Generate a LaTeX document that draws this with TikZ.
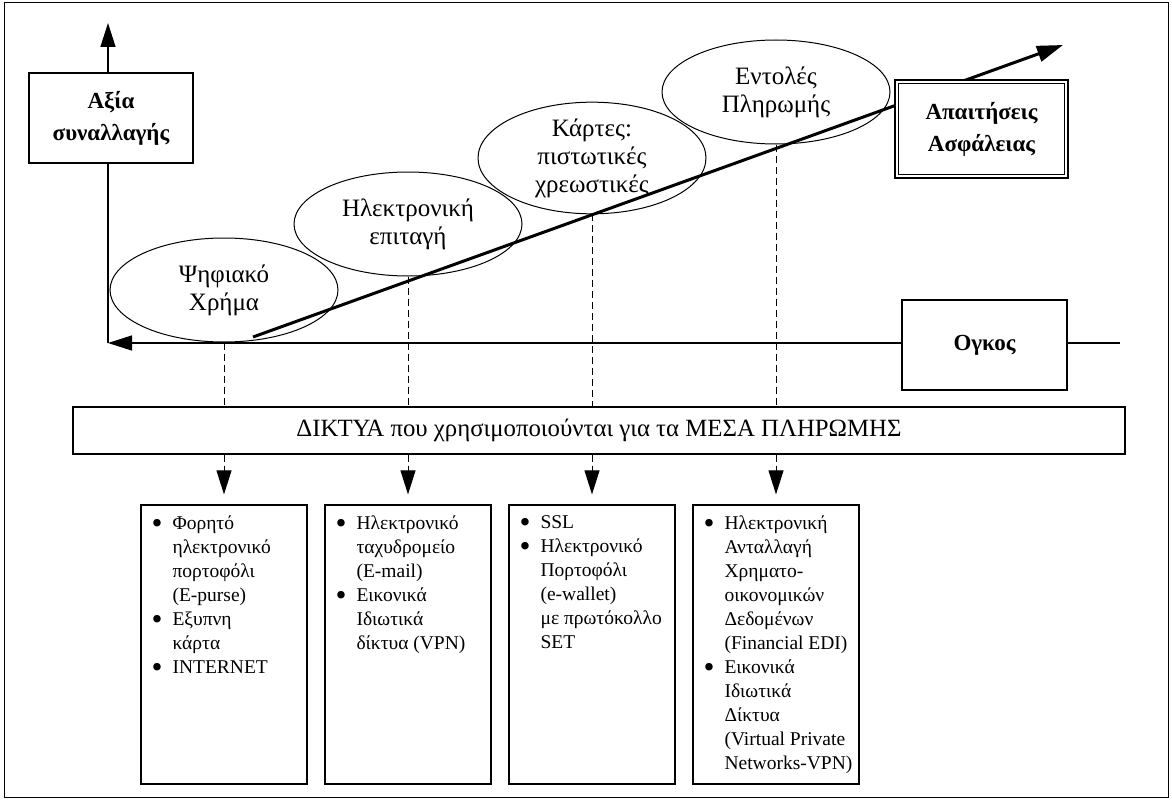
\documentclass[tikz,border=0pt]{standalone}
\usepackage{fontspec}
\setmainfont{Liberation Serif}
\usetikzlibrary{shapes.geometric,arrows.meta}

\tikzset{
  oval/.style={ellipse, draw, line width=1pt, minimum width=228pt, minimum height=104pt,
    inner sep=0pt, align=center, font=\fontsize{25}{28}\selectfont},
  tagbox/.style={draw, line width=1.3pt, fill=white, align=center, inner sep=0pt,
    font=\fontsize{23}{32}\selectfont\bfseries},
  netbox/.style={draw, line width=1.3pt, minimum width=166pt, minimum height=279pt, inner sep=0pt},
  listtext/.style={anchor=north west, align=left, inner sep=0pt, xshift=11pt, yshift=-11pt,
    font=\fontsize{19.5}{24}\selectfont},
  link/.style={dash pattern=on 7pt off 4pt, line width=0.9pt},
  headarrow/.style={-{Triangle[length=24pt,width=15pt]}}
}
\newcommand{\bul}{\makebox[21pt][l]{\smash{\raisebox{-4pt}{\scalebox{1.6}{\textbullet}}}}}
\newcommand{\ind}{\hspace*{21pt}}

\begin{document}
\begin{tikzpicture}[x=1pt, y=-1pt]
  \useasboundingbox (0,0) rectangle (1172,800);
  \draw[line width=1pt] (4,3) rectangle (1168,797);

  % axes and the rising line
  \coordinate (orig) at (108,343);
  \coordinate (ytop) at (108,23);
  \coordinate (xend) at (1120,343);
  \coordinate (rstart) at (253,337);
  \coordinate (rend) at (1063,45);
  \draw[line width=1.3pt, headarrow] (orig) -- (ytop);
  \draw[line width=1.3pt, headarrow] (xend) -- (orig);
  \draw[line width=3pt, -{Triangle[length=26pt,width=16pt]}] (rstart) -- (rend);

  \node[tagbox, minimum width=164pt, minimum height=90pt] (axia) at (111,118) {Αξία\\συναλλαγής};
  \node[tagbox, minimum width=165pt, minimum height=90pt] (ogkos) at (984.5,345) {Ογκος};
  \node[tagbox, line width=2.5pt, minimum width=173pt, minimum height=98pt] (asf) at (981.5,129) {Απαιτήσεις\\Ασφάλειας};
  \draw[line width=0.9pt] ([shift={(4.5pt,-4.5pt)}]asf.north west) rectangle ([shift={(-4.5pt,4.5pt)}]asf.south east);

  % payment means
  \node[oval] (e1) at (224,290) {Ψηφιακό\\Χρήμα};
  \node[oval] (e2) at (408,224) {Ηλεκτρονική\\επιταγή};
  \node[oval] (e3) at (592,158) {Κάρτες:\\πιστωτικές\\χρεωστικές};
  \node[oval] (e4) at (776,92) {Εντολές\\Πληρωμής};

  \node[draw, line width=1.3pt, minimum width=1052pt, minimum height=47pt, inner sep=0pt,
    font=\fontsize{24.8}{28}\selectfont] (bar) at (599,430.5)
    {ΔΙΚΤΥΑ που χρησιμοποιούνται για τα ΜΕΣΑ ΠΛΗΡΩΜΗΣ};

  % networks
  \node[netbox] (b1) at (224,644.5) {};
  \node[netbox] (b2) at (408,644.5) {};
  \node[netbox] (b3) at (592,644.5) {};
  \node[netbox] (b4) at (776,644.5) {};
  \node[listtext] (t1) at (b1.north west) {\bul Φορητό\\ \ind ηλεκτρονικό\\ \ind πορτοφόλι\\ \ind (E-purse)\\
    \bul Εξυπνη\\ \ind κάρτα\\ \bul INTERNET};
  \node[listtext] (t2) at (b2.north west) {\bul Ηλεκτρονικό\\ \ind ταχυδρομείο\\ \ind (E-mail)\\
    \bul Εικονικά\\ \ind Ιδιωτικά\\ \ind δίκτυα (VPN)};
  \node[listtext] (t3) at (b3.north west) {\bul SSL\\ \bul Ηλεκτρονικό\\ \ind Πορτοφόλι\\ \ind (e-wallet)\\
    \ind με πρωτόκολλο\\ \ind SET};
  \node[listtext] (t4) at (b4.north west) {\bul Ηλεκτρονική\\ \ind Ανταλλαγή\\ \ind Χρηματο-\\ \ind οικονομικών\\
    \ind Δεδομένων\\ \ind (Financial EDI)\\ \bul Εικονικά\\ \ind Ιδιωτικά\\ \ind Δίκτυα\\
    \ind (Virtual Private\\ \ind Networks-VPN)};

  \foreach \i in {1,...,4} {
    \draw[link] (e\i.south) -- (e\i.south |- bar.north);
    \draw[link, headarrow, shorten >=10pt] (e\i.south |- bar.south) -- (b\i.north);
  }
\end{tikzpicture}
\end{document}
